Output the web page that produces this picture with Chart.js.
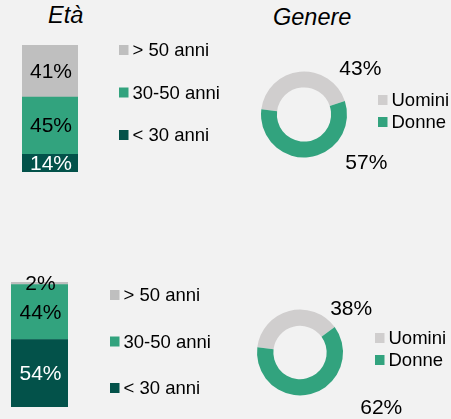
<!DOCTYPE html>
<html>
<head>
<meta charset="utf-8">
<script src="https://cdn.jsdelivr.net/npm/chart.js@4.4.0/dist/chart.umd.min.js"></script>
<style>
    html, body { margin: 0; padding: 0; background: #f2f2f2; }
    #page { position: relative; width: 451px; height: 419px; overflow: hidden;
        font-family: "Liberation Sans", Arial, sans-serif; }
    #page canvas { position: absolute; left: 0; top: 0; }
    .title { position: absolute; font-style: italic; font-size: 23.5px; line-height: 1; color: #000; }
</style>
</head>
<body>
<div id="page">
    <div class="title" style="left:48px; top:4px;">Età</div>
    <div class="title" style="left:273px; top:6px;">Genere</div>
    <canvas id="age_top" width="451" height="419"></canvas>
    <canvas id="age_bottom" width="451" height="419"></canvas>
    <canvas id="gender_top" width="451" height="419"></canvas>
    <canvas id="gender_bottom" width="451" height="419"></canvas>
</div>
<script>
// stacked from bottom to top
const age_labels = ['< 30 anni', '30-50 anni', '> 50 anni'];
const age_colors = ['#03524a', '#32a37e', '#bfbfbf'];
const age_text_colors = ['#ffffff', '#000000', '#000000'];
const age_top_values = [14, 45, 41];
const age_bottom_values = [54, 44, 2];

const gender_labels = ['Uomini', 'Donne'];
const gender_colors = ['#d0cece', '#32a37e'];
const gender_top_values = [43, 57];
const gender_bottom_values = [38, 62];

Chart.defaults.font.family = '"Liberation Sans", Arial, sans-serif';
Chart.defaults.color = '#000';

const FONT_VALUE = '21px "Liberation Sans", Arial, sans-serif';
const FONT_LEGEND = '18.5px "Liberation Sans", Arial, sans-serif';

// legend at a fixed spot next to the chart
const side_legend = {
    id: 'side_legend',
    afterDraw(chart, args, opts) {
        const ctx = chart.ctx;
        ctx.save();
        ctx.font = FONT_LEGEND;
        ctx.textBaseline = 'middle';
        ctx.textAlign = 'left';
        opts.labels.forEach((label, i) => {
            const y = opts.y + i * opts.gap;
            ctx.fillStyle = opts.colors[i];
            ctx.fillRect(opts.x, y - 5, 9.5, 10);
            ctx.fillStyle = '#000';
            ctx.fillText(label, opts.x + 13.5, y + 1);
        });
        ctx.restore();
    }
};

const bar_values = {
    id: 'bar_values',
    afterDatasetsDraw(chart) {
        const ctx = chart.ctx;
        ctx.save();
        ctx.font = FONT_VALUE;
        ctx.textAlign = 'center';
        ctx.textBaseline = 'middle';
        chart.data.datasets.forEach((ds, i) => {
            const bar = chart.getDatasetMeta(i).data[0];
            ctx.fillStyle = age_text_colors[i];
            ctx.fillText(ds.data[0] + '%', bar.x + 1, (bar.y + bar.base) / 2 + 1);
        });
        ctx.restore();
    }
};

const ring_values = {
    id: 'ring_values',
    afterDatasetsDraw(chart, args, opts) {
        const ctx = chart.ctx;
        const data = chart.data.datasets[0].data;
        ctx.save();
        ctx.font = FONT_VALUE;
        ctx.textAlign = 'center';
        ctx.textBaseline = 'middle';
        ctx.fillStyle = '#000';
        chart.getDatasetMeta(0).data.forEach((arc, i) => {
            const off = opts.offsets[i];
            ctx.fillText(data[i] + '%', arc.x + off[0] * arc.outerRadius, arc.y + off[1] * arc.outerRadius);
        });
        ctx.restore();
    }
};

function make_bar(canvas_id, values, padding, legend) {
    const datasets = values.map((v, i) => ({
        label: age_labels[i],
        data: [v],
        backgroundColor: age_colors[i],
        borderWidth: 0,
        barPercentage: 1,
        categoryPercentage: 1
    }));
    new Chart(document.getElementById(canvas_id), {
        type: 'bar',
        data: { labels: [''], datasets: datasets },
        options: {
            responsive: false, animation: false, events: [],
            layout: { padding: padding },
            scales: {
                x: { display: false, stacked: true },
                y: { display: false, stacked: true, min: 0, max: 100 }
            },
            plugins: {
                legend: { display: false },
                tooltip: { enabled: false },
                side_legend: {
                    labels: age_labels.slice().reverse(),
                    colors: age_colors.slice().reverse(),
                    x: legend.x, y: legend.y, gap: legend.gap
                }
            }
        },
        plugins: [side_legend, bar_values]
    });
}

function make_ring(canvas_id, values, padding, cutout, legend, offsets) {
    new Chart(document.getElementById(canvas_id), {
        type: 'doughnut',
        data: {
            labels: gender_labels,
            datasets: [{ data: values, backgroundColor: gender_colors, borderWidth: 0 }]
        },
        options: {
            responsive: false, animation: false, events: [],
            layout: { padding: padding },
            cutout: cutout,
            rotation: -83,
            plugins: {
                legend: { display: false },
                tooltip: { enabled: false },
                side_legend: {
                    labels: gender_labels, colors: gender_colors,
                    x: legend.x, y: legend.y, gap: legend.gap
                },
                ring_values: { offsets: offsets }
            }
        },
        plugins: [side_legend, ring_values]
    });
}

make_bar('age_top', age_top_values,
    { left: 22, right: 373, top: 45, bottom: 247 },
    { x: 119, y: 50, gap: 42.5 });
make_bar('age_bottom', age_bottom_values,
    { left: 11, right: 383, top: 282, bottom: 12 },
    { x: 110, y: 295, gap: 46.5 });

make_ring('gender_top', gender_top_values,
    { left: 261, right: 104, top: 71.5, bottom: 261.5 }, '63%',
    { x: 378, y: 100, gap: 22 },
    [[1.31, -1.06], [1.45, 1.13]]);
make_ring('gender_bottom', gender_bottom_values,
    { left: 257, right: 108, top: 309, bottom: 23 }, '62%',
    { x: 375, y: 338, gap: 22 },
    [[1.19, -1.01], [1.89, 1.29]]);
</script>
</body>
</html>
